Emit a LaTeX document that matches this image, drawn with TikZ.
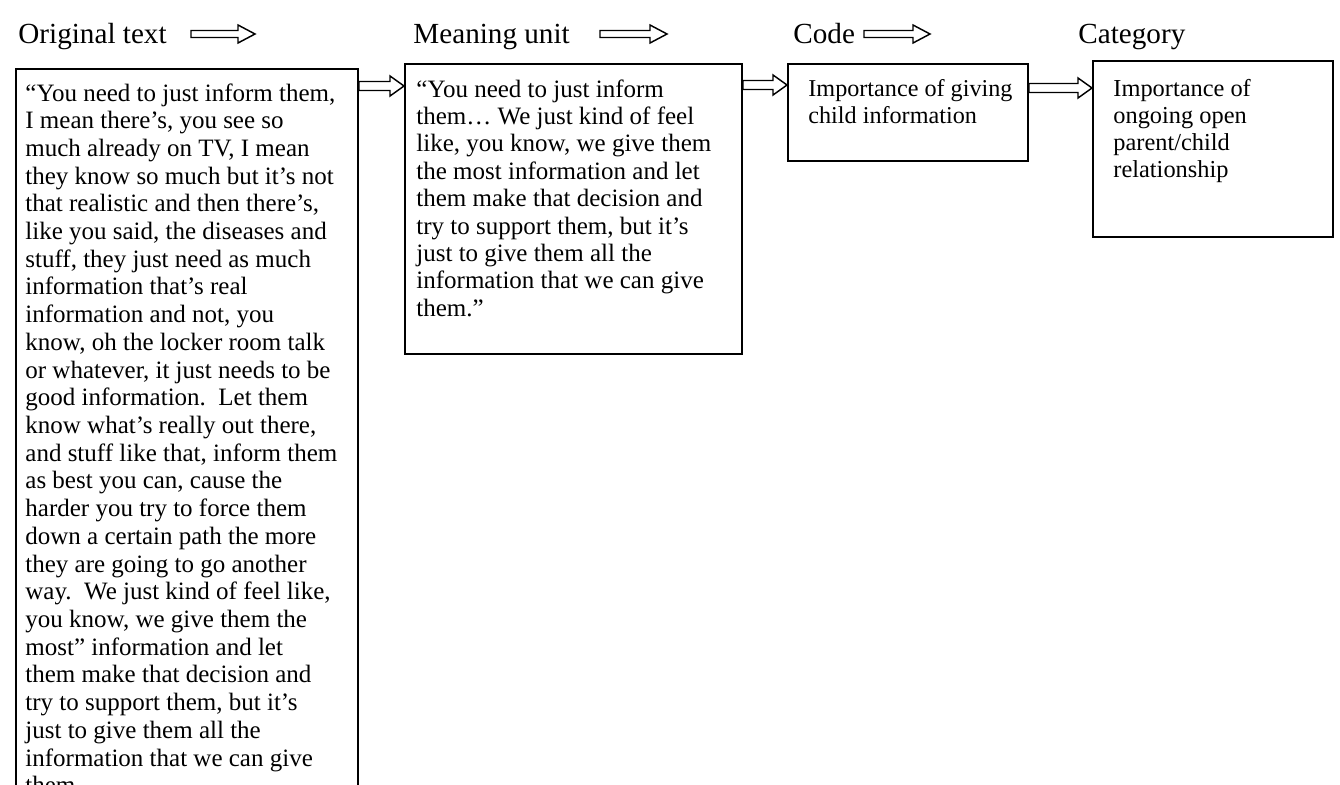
\documentclass[tikz,border=0pt]{standalone}
\usepackage{fontspec}
\setmainfont{Liberation Serif}
\usetikzlibrary{positioning}
\usetikzlibrary{calc}

% hollow block arrow: #1 tail, #2 tip, #3 shaft half height, #4 head half height, #5 head length
\newcommand{\hollowarrow}[5]{%
  \draw[arrowline] ($(#1)+(0,-#3)$) -- ($(#2)+(-#5,-#3)$) -- ($(#2)+(-#5,-#4)$) -- (#2)
     -- ($(#2)+(-#5,#4)$) -- ($(#2)+(-#5,#3)$) -- ($(#1)+(0,#3)$) -- cycle;}

\tikzset{
  stagebox/.style={draw, line width=0.9pt, inner sep=0pt, anchor=north west},
  boxtext/.style={inner sep=0pt, anchor=north west, align=left,
    font=\fontsize{12}{13.15}\selectfont},
  heading/.style={inner sep=0pt, anchor=base west, font=\fontsize{14}{16}\selectfont},
  arrowline/.style={line width=0.7pt, line join=miter}
}

\begin{document}
\begin{tikzpicture}[x=0.48pt, y=-0.48pt]
  \def\pix{0.48pt}
  \useasboundingbox (0,0) rectangle (1340,784);
  \clip (0,0) rectangle (1340,784);

  % headings
  \foreach \x/\name/\txt in {18/horig/Original text, 413/hmean/Meaning unit, 793/hcode/Code, 1078/hcat/Category} {
    \node[heading] (\name) at (\x,44) {\txt};
  }
  \coordinate (h1s) at (191,34);  \coordinate (h1e) at (255,34);
  \coordinate (h2s) at (600,34);  \coordinate (h2e) at (667,34);
  \coordinate (h3s) at (864,34);  \coordinate (h3e) at (930,34);
  \hollowarrow{h1s}{h1e}{3.5}{9}{17}
  \hollowarrow{h2s}{h2e}{3.5}{9}{17}
  \hollowarrow{h3s}{h3e}{3.5}{9}{17}

  % boxes
  \node[stagebox, minimum width=342*\pix, minimum height=760*\pix] (orig) at (15,68) {};
  \node[stagebox, minimum width=337*\pix, minimum height=290*\pix] (mean) at (404,63) {};
  \node[stagebox, minimum width=240*\pix, minimum height=97*\pix] (code) at (787,63) {};
  \node[stagebox, minimum width=240*\pix, minimum height=176*\pix] (cat) at (1092,60) {};

  \node[boxtext, font=\fontsize{12}{13.3}\selectfont] (origtxt) at ([shift={(10,15)}]orig.north west) {%
    “You need to just inform them,\\
    I mean there’s, you see so\\
    much already on TV, I mean\\
    they know so much but it’s not\\
    that realistic and then there’s,\\
    like you said, the diseases and\\
    stuff, they just need as much\\
    information that’s real\\
    information and not, you\\
    know, oh the locker room talk\\
    or whatever, it just needs to be\\
    good information.\ \ Let them\\
    know what’s really out there,\\
    and stuff like that, inform them\\
    as best you can, cause the\\
    harder you try to force them\\
    down a certain path the more\\
    they are going to go another\\
    way.\ \ We just kind of feel like,\\
    you know, we give them the\\
    most” information and let\\
    them make that decision and\\
    try to support them, but it’s\\
    just to give them all the\\
    information that we can give\\
    them.};
  \node[boxtext] (meantxt) at ([shift={(12,16)}]mean.north west) {%
    “You need to just inform\\
    them… We just kind of feel\\
    like, you know, we give them\\
    the most information and let\\
    them make that decision and\\
    try to support them, but it’s\\
    just to give them all the\\
    information that we can give\\
    them.”};
  \node[boxtext, font=\fontsize{11.6}{13}\selectfont] (codetxt) at ([shift={(21,16)}]code.north west) {%
    Importance of giving\\
    child information};
  \node[boxtext, font=\fontsize{11.7}{13}\selectfont] (cattxt) at ([shift={(21,19)}]cat.north west) {%
    Importance of\\
    ongoing open\\
    parent/child\\
    relationship};

  % links between boxes
  \coordinate (l1s) at (orig.east |- 0,86);
  \coordinate (l2s) at (mean.east |- 0,85);
  \coordinate (l3s) at (code.east |- 0,88);
  \hollowarrow{l1s}{l1s -| mean.west}{4.5}{10}{14}
  \hollowarrow{l2s}{l2s -| code.west}{4.5}{10}{14}
  \hollowarrow{l3s}{l3s -| cat.west}{4.5}{10}{14}
\end{tikzpicture}
\end{document}
